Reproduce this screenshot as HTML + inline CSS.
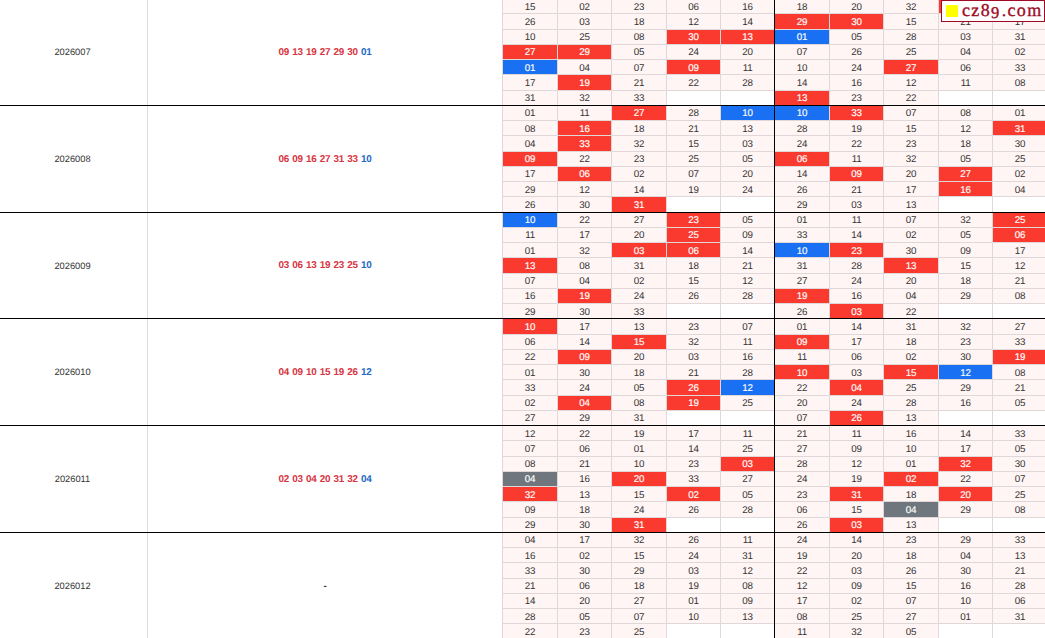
<!DOCTYPE html>
<html><head><meta charset="utf-8"><style>
html,body{margin:0;padding:0;background:#fff;}
body{width:1045px;height:638px;overflow:hidden;position:relative;font-family:"Liberation Sans",sans-serif;text-rendering:geometricPrecision;}
.a{position:absolute;}
.c{position:absolute;text-align:center;color:#333333;font-size:9.8px;letter-spacing:-0.2px;text-indent:0.2px;}
.r{background:#fb3a2f;}
.b{background:#1a70f2;}
.g{background:#6f767d;}
.t{position:absolute;text-align:center;color:#333333;font-size:9.8px;line-height:14px;height:14px;letter-spacing:-0.2px;text-indent:0.2px;}
.w{color:#fff;-webkit-text-stroke:0.15px #fff;}
.p{background:#fff5f4;}
.hl{position:absolute;left:502px;width:545px;height:1px;background:#e0d8d8;}
.vl{position:absolute;width:1px;background:#e0d8d8;}
.bk{position:absolute;left:0;width:1045px;height:1px;background:#000;}
.per{position:absolute;left:-1px;width:147px;text-align:center;font-size:9.3px;color:#333333;}
.num{position:absolute;left:148px;width:354px;text-align:center;font-size:9.9px;font-weight:bold;color:#d8343f;word-spacing:0.6px;letter-spacing:-0.2px;}
.num span{color:#2268c4;}
</style></head><body>

<div class="c p" style="left:503px;top:-1px;width:54px;height:14px"></div>
<div class="t" style="left:503px;top:0.55px;width:54px">15</div>
<div class="c p" style="left:558px;top:-1px;width:53px;height:14px"></div>
<div class="t" style="left:558px;top:0.55px;width:53px">02</div>
<div class="c p" style="left:612px;top:-1px;width:54px;height:14px"></div>
<div class="t" style="left:612px;top:0.55px;width:54px">23</div>
<div class="c p" style="left:667px;top:-1px;width:53px;height:14px"></div>
<div class="t" style="left:667px;top:0.55px;width:53px">06</div>
<div class="c p" style="left:721px;top:-1px;width:53px;height:14px"></div>
<div class="t" style="left:721px;top:0.55px;width:53px">16</div>
<div class="c p" style="left:503px;top:14px;width:54px;height:15px"></div>
<div class="t" style="left:503px;top:15.80px;width:54px">26</div>
<div class="c p" style="left:558px;top:14px;width:53px;height:15px"></div>
<div class="t" style="left:558px;top:15.80px;width:53px">03</div>
<div class="c p" style="left:612px;top:14px;width:54px;height:15px"></div>
<div class="t" style="left:612px;top:15.80px;width:54px">18</div>
<div class="c p" style="left:667px;top:14px;width:53px;height:15px"></div>
<div class="t" style="left:667px;top:15.80px;width:53px">12</div>
<div class="c p" style="left:721px;top:14px;width:53px;height:15px"></div>
<div class="t" style="left:721px;top:15.80px;width:53px">14</div>
<div class="c p" style="left:503px;top:30px;width:54px;height:14px"></div>
<div class="t" style="left:503px;top:31.05px;width:54px">10</div>
<div class="c p" style="left:558px;top:30px;width:53px;height:14px"></div>
<div class="t" style="left:558px;top:31.05px;width:53px">25</div>
<div class="c p" style="left:612px;top:30px;width:54px;height:14px"></div>
<div class="t" style="left:612px;top:31.05px;width:54px">08</div>
<div class="c r" style="left:667px;top:30px;width:53px;height:14px"></div>
<div class="t w" style="left:667px;top:31.05px;width:53px">30</div>
<div class="c r" style="left:721px;top:30px;width:53px;height:14px"></div>
<div class="t w" style="left:721px;top:31.05px;width:53px">13</div>
<div class="c r" style="left:503px;top:45px;width:54px;height:14px"></div>
<div class="t w" style="left:503px;top:46.30px;width:54px">27</div>
<div class="c r" style="left:558px;top:45px;width:53px;height:14px"></div>
<div class="t w" style="left:558px;top:46.30px;width:53px">29</div>
<div class="c p" style="left:612px;top:45px;width:54px;height:14px"></div>
<div class="t" style="left:612px;top:46.30px;width:54px">05</div>
<div class="c p" style="left:667px;top:45px;width:53px;height:14px"></div>
<div class="t" style="left:667px;top:46.30px;width:53px">24</div>
<div class="c p" style="left:721px;top:45px;width:53px;height:14px"></div>
<div class="t" style="left:721px;top:46.30px;width:53px">20</div>
<div class="c b" style="left:503px;top:60px;width:54px;height:14px"></div>
<div class="t w" style="left:503px;top:61.55px;width:54px">01</div>
<div class="c p" style="left:558px;top:60px;width:53px;height:14px"></div>
<div class="t" style="left:558px;top:61.55px;width:53px">04</div>
<div class="c p" style="left:612px;top:60px;width:54px;height:14px"></div>
<div class="t" style="left:612px;top:61.55px;width:54px">07</div>
<div class="c r" style="left:667px;top:60px;width:53px;height:14px"></div>
<div class="t w" style="left:667px;top:61.55px;width:53px">09</div>
<div class="c p" style="left:721px;top:60px;width:53px;height:14px"></div>
<div class="t" style="left:721px;top:61.55px;width:53px">11</div>
<div class="c p" style="left:503px;top:75px;width:54px;height:15px"></div>
<div class="t" style="left:503px;top:76.80px;width:54px">17</div>
<div class="c r" style="left:558px;top:75px;width:53px;height:15px"></div>
<div class="t w" style="left:558px;top:76.80px;width:53px">19</div>
<div class="c p" style="left:612px;top:75px;width:54px;height:15px"></div>
<div class="t" style="left:612px;top:76.80px;width:54px">21</div>
<div class="c p" style="left:667px;top:75px;width:53px;height:15px"></div>
<div class="t" style="left:667px;top:76.80px;width:53px">22</div>
<div class="c p" style="left:721px;top:75px;width:53px;height:15px"></div>
<div class="t" style="left:721px;top:76.80px;width:53px">28</div>
<div class="c p" style="left:503px;top:91px;width:54px;height:14px"></div>
<div class="t" style="left:503px;top:92.05px;width:54px">31</div>
<div class="c p" style="left:558px;top:91px;width:53px;height:14px"></div>
<div class="t" style="left:558px;top:92.05px;width:53px">32</div>
<div class="c p" style="left:612px;top:91px;width:54px;height:14px"></div>
<div class="t" style="left:612px;top:92.05px;width:54px">33</div>
<div class="c p" style="left:775px;top:-1px;width:54px;height:14px"></div>
<div class="t" style="left:775px;top:0.55px;width:54px">18</div>
<div class="c p" style="left:830px;top:-1px;width:53px;height:14px"></div>
<div class="t" style="left:830px;top:0.55px;width:53px">20</div>
<div class="c p" style="left:884px;top:-1px;width:54px;height:14px"></div>
<div class="t" style="left:884px;top:0.55px;width:54px">32</div>
<div class="c r" style="left:939px;top:-1px;width:53px;height:14px"></div>
<div class="t w" style="left:939px;top:0.55px;width:53px">09</div>
<div class="c r" style="left:993px;top:-1px;width:54px;height:14px"></div>
<div class="t w" style="left:993px;top:0.55px;width:54px">19</div>
<div class="c r" style="left:775px;top:14px;width:54px;height:15px"></div>
<div class="t w" style="left:775px;top:15.80px;width:54px">29</div>
<div class="c r" style="left:830px;top:14px;width:53px;height:15px"></div>
<div class="t w" style="left:830px;top:15.80px;width:53px">30</div>
<div class="c p" style="left:884px;top:14px;width:54px;height:15px"></div>
<div class="t" style="left:884px;top:15.80px;width:54px">15</div>
<div class="c p" style="left:939px;top:14px;width:53px;height:15px"></div>
<div class="t" style="left:939px;top:15.80px;width:53px">21</div>
<div class="c p" style="left:993px;top:14px;width:54px;height:15px"></div>
<div class="t" style="left:993px;top:15.80px;width:54px">17</div>
<div class="c b" style="left:775px;top:30px;width:54px;height:14px"></div>
<div class="t w" style="left:775px;top:31.05px;width:54px">01</div>
<div class="c p" style="left:830px;top:30px;width:53px;height:14px"></div>
<div class="t" style="left:830px;top:31.05px;width:53px">05</div>
<div class="c p" style="left:884px;top:30px;width:54px;height:14px"></div>
<div class="t" style="left:884px;top:31.05px;width:54px">28</div>
<div class="c p" style="left:939px;top:30px;width:53px;height:14px"></div>
<div class="t" style="left:939px;top:31.05px;width:53px">03</div>
<div class="c p" style="left:993px;top:30px;width:54px;height:14px"></div>
<div class="t" style="left:993px;top:31.05px;width:54px">31</div>
<div class="c p" style="left:775px;top:45px;width:54px;height:14px"></div>
<div class="t" style="left:775px;top:46.30px;width:54px">07</div>
<div class="c p" style="left:830px;top:45px;width:53px;height:14px"></div>
<div class="t" style="left:830px;top:46.30px;width:53px">26</div>
<div class="c p" style="left:884px;top:45px;width:54px;height:14px"></div>
<div class="t" style="left:884px;top:46.30px;width:54px">25</div>
<div class="c p" style="left:939px;top:45px;width:53px;height:14px"></div>
<div class="t" style="left:939px;top:46.30px;width:53px">04</div>
<div class="c p" style="left:993px;top:45px;width:54px;height:14px"></div>
<div class="t" style="left:993px;top:46.30px;width:54px">02</div>
<div class="c p" style="left:775px;top:60px;width:54px;height:14px"></div>
<div class="t" style="left:775px;top:61.55px;width:54px">10</div>
<div class="c p" style="left:830px;top:60px;width:53px;height:14px"></div>
<div class="t" style="left:830px;top:61.55px;width:53px">24</div>
<div class="c r" style="left:884px;top:60px;width:54px;height:14px"></div>
<div class="t w" style="left:884px;top:61.55px;width:54px">27</div>
<div class="c p" style="left:939px;top:60px;width:53px;height:14px"></div>
<div class="t" style="left:939px;top:61.55px;width:53px">06</div>
<div class="c p" style="left:993px;top:60px;width:54px;height:14px"></div>
<div class="t" style="left:993px;top:61.55px;width:54px">33</div>
<div class="c p" style="left:775px;top:75px;width:54px;height:15px"></div>
<div class="t" style="left:775px;top:76.80px;width:54px">14</div>
<div class="c p" style="left:830px;top:75px;width:53px;height:15px"></div>
<div class="t" style="left:830px;top:76.80px;width:53px">16</div>
<div class="c p" style="left:884px;top:75px;width:54px;height:15px"></div>
<div class="t" style="left:884px;top:76.80px;width:54px">12</div>
<div class="c p" style="left:939px;top:75px;width:53px;height:15px"></div>
<div class="t" style="left:939px;top:76.80px;width:53px">11</div>
<div class="c p" style="left:993px;top:75px;width:54px;height:15px"></div>
<div class="t" style="left:993px;top:76.80px;width:54px">08</div>
<div class="c r" style="left:775px;top:91px;width:54px;height:14px"></div>
<div class="t w" style="left:775px;top:92.05px;width:54px">13</div>
<div class="c p" style="left:830px;top:91px;width:53px;height:14px"></div>
<div class="t" style="left:830px;top:92.05px;width:53px">23</div>
<div class="c p" style="left:884px;top:91px;width:54px;height:14px"></div>
<div class="t" style="left:884px;top:92.05px;width:54px">22</div>
<div class="c p" style="left:503px;top:106px;width:54px;height:14px"></div>
<div class="t" style="left:503px;top:107.30px;width:54px">01</div>
<div class="c p" style="left:558px;top:106px;width:53px;height:14px"></div>
<div class="t" style="left:558px;top:107.30px;width:53px">11</div>
<div class="c r" style="left:612px;top:106px;width:54px;height:14px"></div>
<div class="t w" style="left:612px;top:107.30px;width:54px">27</div>
<div class="c p" style="left:667px;top:106px;width:53px;height:14px"></div>
<div class="t" style="left:667px;top:107.30px;width:53px">28</div>
<div class="c b" style="left:721px;top:106px;width:53px;height:14px"></div>
<div class="t w" style="left:721px;top:107.30px;width:53px">10</div>
<div class="c p" style="left:503px;top:121px;width:54px;height:14px"></div>
<div class="t" style="left:503px;top:122.55px;width:54px">08</div>
<div class="c r" style="left:558px;top:121px;width:53px;height:14px"></div>
<div class="t w" style="left:558px;top:122.55px;width:53px">16</div>
<div class="c p" style="left:612px;top:121px;width:54px;height:14px"></div>
<div class="t" style="left:612px;top:122.55px;width:54px">18</div>
<div class="c p" style="left:667px;top:121px;width:53px;height:14px"></div>
<div class="t" style="left:667px;top:122.55px;width:53px">21</div>
<div class="c p" style="left:721px;top:121px;width:53px;height:14px"></div>
<div class="t" style="left:721px;top:122.55px;width:53px">13</div>
<div class="c p" style="left:503px;top:136px;width:54px;height:15px"></div>
<div class="t" style="left:503px;top:137.80px;width:54px">04</div>
<div class="c r" style="left:558px;top:136px;width:53px;height:15px"></div>
<div class="t w" style="left:558px;top:137.80px;width:53px">33</div>
<div class="c p" style="left:612px;top:136px;width:54px;height:15px"></div>
<div class="t" style="left:612px;top:137.80px;width:54px">32</div>
<div class="c p" style="left:667px;top:136px;width:53px;height:15px"></div>
<div class="t" style="left:667px;top:137.80px;width:53px">15</div>
<div class="c p" style="left:721px;top:136px;width:53px;height:15px"></div>
<div class="t" style="left:721px;top:137.80px;width:53px">03</div>
<div class="c r" style="left:503px;top:152px;width:54px;height:14px"></div>
<div class="t w" style="left:503px;top:153.05px;width:54px">09</div>
<div class="c p" style="left:558px;top:152px;width:53px;height:14px"></div>
<div class="t" style="left:558px;top:153.05px;width:53px">22</div>
<div class="c p" style="left:612px;top:152px;width:54px;height:14px"></div>
<div class="t" style="left:612px;top:153.05px;width:54px">23</div>
<div class="c p" style="left:667px;top:152px;width:53px;height:14px"></div>
<div class="t" style="left:667px;top:153.05px;width:53px">25</div>
<div class="c p" style="left:721px;top:152px;width:53px;height:14px"></div>
<div class="t" style="left:721px;top:153.05px;width:53px">05</div>
<div class="c p" style="left:503px;top:167px;width:54px;height:14px"></div>
<div class="t" style="left:503px;top:168.30px;width:54px">17</div>
<div class="c r" style="left:558px;top:167px;width:53px;height:14px"></div>
<div class="t w" style="left:558px;top:168.30px;width:53px">06</div>
<div class="c p" style="left:612px;top:167px;width:54px;height:14px"></div>
<div class="t" style="left:612px;top:168.30px;width:54px">02</div>
<div class="c p" style="left:667px;top:167px;width:53px;height:14px"></div>
<div class="t" style="left:667px;top:168.30px;width:53px">07</div>
<div class="c p" style="left:721px;top:167px;width:53px;height:14px"></div>
<div class="t" style="left:721px;top:168.30px;width:53px">20</div>
<div class="c p" style="left:503px;top:182px;width:54px;height:14px"></div>
<div class="t" style="left:503px;top:183.55px;width:54px">29</div>
<div class="c p" style="left:558px;top:182px;width:53px;height:14px"></div>
<div class="t" style="left:558px;top:183.55px;width:53px">12</div>
<div class="c p" style="left:612px;top:182px;width:54px;height:14px"></div>
<div class="t" style="left:612px;top:183.55px;width:54px">14</div>
<div class="c p" style="left:667px;top:182px;width:53px;height:14px"></div>
<div class="t" style="left:667px;top:183.55px;width:53px">19</div>
<div class="c p" style="left:721px;top:182px;width:53px;height:14px"></div>
<div class="t" style="left:721px;top:183.55px;width:53px">24</div>
<div class="c p" style="left:503px;top:197px;width:54px;height:15px"></div>
<div class="t" style="left:503px;top:198.80px;width:54px">26</div>
<div class="c p" style="left:558px;top:197px;width:53px;height:15px"></div>
<div class="t" style="left:558px;top:198.80px;width:53px">30</div>
<div class="c r" style="left:612px;top:197px;width:54px;height:15px"></div>
<div class="t w" style="left:612px;top:198.80px;width:54px">31</div>
<div class="c b" style="left:775px;top:106px;width:54px;height:14px"></div>
<div class="t w" style="left:775px;top:107.30px;width:54px">10</div>
<div class="c r" style="left:830px;top:106px;width:53px;height:14px"></div>
<div class="t w" style="left:830px;top:107.30px;width:53px">33</div>
<div class="c p" style="left:884px;top:106px;width:54px;height:14px"></div>
<div class="t" style="left:884px;top:107.30px;width:54px">07</div>
<div class="c p" style="left:939px;top:106px;width:53px;height:14px"></div>
<div class="t" style="left:939px;top:107.30px;width:53px">08</div>
<div class="c p" style="left:993px;top:106px;width:54px;height:14px"></div>
<div class="t" style="left:993px;top:107.30px;width:54px">01</div>
<div class="c p" style="left:775px;top:121px;width:54px;height:14px"></div>
<div class="t" style="left:775px;top:122.55px;width:54px">28</div>
<div class="c p" style="left:830px;top:121px;width:53px;height:14px"></div>
<div class="t" style="left:830px;top:122.55px;width:53px">19</div>
<div class="c p" style="left:884px;top:121px;width:54px;height:14px"></div>
<div class="t" style="left:884px;top:122.55px;width:54px">15</div>
<div class="c p" style="left:939px;top:121px;width:53px;height:14px"></div>
<div class="t" style="left:939px;top:122.55px;width:53px">12</div>
<div class="c r" style="left:993px;top:121px;width:54px;height:14px"></div>
<div class="t w" style="left:993px;top:122.55px;width:54px">31</div>
<div class="c p" style="left:775px;top:136px;width:54px;height:15px"></div>
<div class="t" style="left:775px;top:137.80px;width:54px">24</div>
<div class="c p" style="left:830px;top:136px;width:53px;height:15px"></div>
<div class="t" style="left:830px;top:137.80px;width:53px">22</div>
<div class="c p" style="left:884px;top:136px;width:54px;height:15px"></div>
<div class="t" style="left:884px;top:137.80px;width:54px">23</div>
<div class="c p" style="left:939px;top:136px;width:53px;height:15px"></div>
<div class="t" style="left:939px;top:137.80px;width:53px">18</div>
<div class="c p" style="left:993px;top:136px;width:54px;height:15px"></div>
<div class="t" style="left:993px;top:137.80px;width:54px">30</div>
<div class="c r" style="left:775px;top:152px;width:54px;height:14px"></div>
<div class="t w" style="left:775px;top:153.05px;width:54px">06</div>
<div class="c p" style="left:830px;top:152px;width:53px;height:14px"></div>
<div class="t" style="left:830px;top:153.05px;width:53px">11</div>
<div class="c p" style="left:884px;top:152px;width:54px;height:14px"></div>
<div class="t" style="left:884px;top:153.05px;width:54px">32</div>
<div class="c p" style="left:939px;top:152px;width:53px;height:14px"></div>
<div class="t" style="left:939px;top:153.05px;width:53px">05</div>
<div class="c p" style="left:993px;top:152px;width:54px;height:14px"></div>
<div class="t" style="left:993px;top:153.05px;width:54px">25</div>
<div class="c p" style="left:775px;top:167px;width:54px;height:14px"></div>
<div class="t" style="left:775px;top:168.30px;width:54px">14</div>
<div class="c r" style="left:830px;top:167px;width:53px;height:14px"></div>
<div class="t w" style="left:830px;top:168.30px;width:53px">09</div>
<div class="c p" style="left:884px;top:167px;width:54px;height:14px"></div>
<div class="t" style="left:884px;top:168.30px;width:54px">20</div>
<div class="c r" style="left:939px;top:167px;width:53px;height:14px"></div>
<div class="t w" style="left:939px;top:168.30px;width:53px">27</div>
<div class="c p" style="left:993px;top:167px;width:54px;height:14px"></div>
<div class="t" style="left:993px;top:168.30px;width:54px">02</div>
<div class="c p" style="left:775px;top:182px;width:54px;height:14px"></div>
<div class="t" style="left:775px;top:183.55px;width:54px">26</div>
<div class="c p" style="left:830px;top:182px;width:53px;height:14px"></div>
<div class="t" style="left:830px;top:183.55px;width:53px">21</div>
<div class="c p" style="left:884px;top:182px;width:54px;height:14px"></div>
<div class="t" style="left:884px;top:183.55px;width:54px">17</div>
<div class="c r" style="left:939px;top:182px;width:53px;height:14px"></div>
<div class="t w" style="left:939px;top:183.55px;width:53px">16</div>
<div class="c p" style="left:993px;top:182px;width:54px;height:14px"></div>
<div class="t" style="left:993px;top:183.55px;width:54px">04</div>
<div class="c p" style="left:775px;top:197px;width:54px;height:15px"></div>
<div class="t" style="left:775px;top:198.80px;width:54px">29</div>
<div class="c p" style="left:830px;top:197px;width:53px;height:15px"></div>
<div class="t" style="left:830px;top:198.80px;width:53px">03</div>
<div class="c p" style="left:884px;top:197px;width:54px;height:15px"></div>
<div class="t" style="left:884px;top:198.80px;width:54px">13</div>
<div class="c b" style="left:503px;top:213px;width:54px;height:14px"></div>
<div class="t w" style="left:503px;top:214.05px;width:54px">10</div>
<div class="c p" style="left:558px;top:213px;width:53px;height:14px"></div>
<div class="t" style="left:558px;top:214.05px;width:53px">22</div>
<div class="c p" style="left:612px;top:213px;width:54px;height:14px"></div>
<div class="t" style="left:612px;top:214.05px;width:54px">27</div>
<div class="c r" style="left:667px;top:213px;width:53px;height:14px"></div>
<div class="t w" style="left:667px;top:214.05px;width:53px">23</div>
<div class="c p" style="left:721px;top:213px;width:53px;height:14px"></div>
<div class="t" style="left:721px;top:214.05px;width:53px">05</div>
<div class="c p" style="left:503px;top:228px;width:54px;height:14px"></div>
<div class="t" style="left:503px;top:229.30px;width:54px">11</div>
<div class="c p" style="left:558px;top:228px;width:53px;height:14px"></div>
<div class="t" style="left:558px;top:229.30px;width:53px">17</div>
<div class="c p" style="left:612px;top:228px;width:54px;height:14px"></div>
<div class="t" style="left:612px;top:229.30px;width:54px">20</div>
<div class="c r" style="left:667px;top:228px;width:53px;height:14px"></div>
<div class="t w" style="left:667px;top:229.30px;width:53px">25</div>
<div class="c p" style="left:721px;top:228px;width:53px;height:14px"></div>
<div class="t" style="left:721px;top:229.30px;width:53px">09</div>
<div class="c p" style="left:503px;top:243px;width:54px;height:14px"></div>
<div class="t" style="left:503px;top:244.55px;width:54px">01</div>
<div class="c p" style="left:558px;top:243px;width:53px;height:14px"></div>
<div class="t" style="left:558px;top:244.55px;width:53px">32</div>
<div class="c r" style="left:612px;top:243px;width:54px;height:14px"></div>
<div class="t w" style="left:612px;top:244.55px;width:54px">03</div>
<div class="c r" style="left:667px;top:243px;width:53px;height:14px"></div>
<div class="t w" style="left:667px;top:244.55px;width:53px">06</div>
<div class="c p" style="left:721px;top:243px;width:53px;height:14px"></div>
<div class="t" style="left:721px;top:244.55px;width:53px">14</div>
<div class="c r" style="left:503px;top:258px;width:54px;height:15px"></div>
<div class="t w" style="left:503px;top:259.80px;width:54px">13</div>
<div class="c p" style="left:558px;top:258px;width:53px;height:15px"></div>
<div class="t" style="left:558px;top:259.80px;width:53px">08</div>
<div class="c p" style="left:612px;top:258px;width:54px;height:15px"></div>
<div class="t" style="left:612px;top:259.80px;width:54px">31</div>
<div class="c p" style="left:667px;top:258px;width:53px;height:15px"></div>
<div class="t" style="left:667px;top:259.80px;width:53px">18</div>
<div class="c p" style="left:721px;top:258px;width:53px;height:15px"></div>
<div class="t" style="left:721px;top:259.80px;width:53px">21</div>
<div class="c p" style="left:503px;top:274px;width:54px;height:14px"></div>
<div class="t" style="left:503px;top:275.05px;width:54px">07</div>
<div class="c p" style="left:558px;top:274px;width:53px;height:14px"></div>
<div class="t" style="left:558px;top:275.05px;width:53px">04</div>
<div class="c p" style="left:612px;top:274px;width:54px;height:14px"></div>
<div class="t" style="left:612px;top:275.05px;width:54px">02</div>
<div class="c p" style="left:667px;top:274px;width:53px;height:14px"></div>
<div class="t" style="left:667px;top:275.05px;width:53px">15</div>
<div class="c p" style="left:721px;top:274px;width:53px;height:14px"></div>
<div class="t" style="left:721px;top:275.05px;width:53px">12</div>
<div class="c p" style="left:503px;top:289px;width:54px;height:14px"></div>
<div class="t" style="left:503px;top:290.30px;width:54px">16</div>
<div class="c r" style="left:558px;top:289px;width:53px;height:14px"></div>
<div class="t w" style="left:558px;top:290.30px;width:53px">19</div>
<div class="c p" style="left:612px;top:289px;width:54px;height:14px"></div>
<div class="t" style="left:612px;top:290.30px;width:54px">24</div>
<div class="c p" style="left:667px;top:289px;width:53px;height:14px"></div>
<div class="t" style="left:667px;top:290.30px;width:53px">26</div>
<div class="c p" style="left:721px;top:289px;width:53px;height:14px"></div>
<div class="t" style="left:721px;top:290.30px;width:53px">28</div>
<div class="c p" style="left:503px;top:304px;width:54px;height:14px"></div>
<div class="t" style="left:503px;top:305.55px;width:54px">29</div>
<div class="c p" style="left:558px;top:304px;width:53px;height:14px"></div>
<div class="t" style="left:558px;top:305.55px;width:53px">30</div>
<div class="c p" style="left:612px;top:304px;width:54px;height:14px"></div>
<div class="t" style="left:612px;top:305.55px;width:54px">33</div>
<div class="c p" style="left:775px;top:213px;width:54px;height:14px"></div>
<div class="t" style="left:775px;top:214.05px;width:54px">01</div>
<div class="c p" style="left:830px;top:213px;width:53px;height:14px"></div>
<div class="t" style="left:830px;top:214.05px;width:53px">11</div>
<div class="c p" style="left:884px;top:213px;width:54px;height:14px"></div>
<div class="t" style="left:884px;top:214.05px;width:54px">07</div>
<div class="c p" style="left:939px;top:213px;width:53px;height:14px"></div>
<div class="t" style="left:939px;top:214.05px;width:53px">32</div>
<div class="c r" style="left:993px;top:213px;width:54px;height:14px"></div>
<div class="t w" style="left:993px;top:214.05px;width:54px">25</div>
<div class="c p" style="left:775px;top:228px;width:54px;height:14px"></div>
<div class="t" style="left:775px;top:229.30px;width:54px">33</div>
<div class="c p" style="left:830px;top:228px;width:53px;height:14px"></div>
<div class="t" style="left:830px;top:229.30px;width:53px">14</div>
<div class="c p" style="left:884px;top:228px;width:54px;height:14px"></div>
<div class="t" style="left:884px;top:229.30px;width:54px">02</div>
<div class="c p" style="left:939px;top:228px;width:53px;height:14px"></div>
<div class="t" style="left:939px;top:229.30px;width:53px">05</div>
<div class="c r" style="left:993px;top:228px;width:54px;height:14px"></div>
<div class="t w" style="left:993px;top:229.30px;width:54px">06</div>
<div class="c b" style="left:775px;top:243px;width:54px;height:14px"></div>
<div class="t w" style="left:775px;top:244.55px;width:54px">10</div>
<div class="c r" style="left:830px;top:243px;width:53px;height:14px"></div>
<div class="t w" style="left:830px;top:244.55px;width:53px">23</div>
<div class="c p" style="left:884px;top:243px;width:54px;height:14px"></div>
<div class="t" style="left:884px;top:244.55px;width:54px">30</div>
<div class="c p" style="left:939px;top:243px;width:53px;height:14px"></div>
<div class="t" style="left:939px;top:244.55px;width:53px">09</div>
<div class="c p" style="left:993px;top:243px;width:54px;height:14px"></div>
<div class="t" style="left:993px;top:244.55px;width:54px">17</div>
<div class="c p" style="left:775px;top:258px;width:54px;height:15px"></div>
<div class="t" style="left:775px;top:259.80px;width:54px">31</div>
<div class="c p" style="left:830px;top:258px;width:53px;height:15px"></div>
<div class="t" style="left:830px;top:259.80px;width:53px">28</div>
<div class="c r" style="left:884px;top:258px;width:54px;height:15px"></div>
<div class="t w" style="left:884px;top:259.80px;width:54px">13</div>
<div class="c p" style="left:939px;top:258px;width:53px;height:15px"></div>
<div class="t" style="left:939px;top:259.80px;width:53px">15</div>
<div class="c p" style="left:993px;top:258px;width:54px;height:15px"></div>
<div class="t" style="left:993px;top:259.80px;width:54px">12</div>
<div class="c p" style="left:775px;top:274px;width:54px;height:14px"></div>
<div class="t" style="left:775px;top:275.05px;width:54px">27</div>
<div class="c p" style="left:830px;top:274px;width:53px;height:14px"></div>
<div class="t" style="left:830px;top:275.05px;width:53px">24</div>
<div class="c p" style="left:884px;top:274px;width:54px;height:14px"></div>
<div class="t" style="left:884px;top:275.05px;width:54px">20</div>
<div class="c p" style="left:939px;top:274px;width:53px;height:14px"></div>
<div class="t" style="left:939px;top:275.05px;width:53px">18</div>
<div class="c p" style="left:993px;top:274px;width:54px;height:14px"></div>
<div class="t" style="left:993px;top:275.05px;width:54px">21</div>
<div class="c r" style="left:775px;top:289px;width:54px;height:14px"></div>
<div class="t w" style="left:775px;top:290.30px;width:54px">19</div>
<div class="c p" style="left:830px;top:289px;width:53px;height:14px"></div>
<div class="t" style="left:830px;top:290.30px;width:53px">16</div>
<div class="c p" style="left:884px;top:289px;width:54px;height:14px"></div>
<div class="t" style="left:884px;top:290.30px;width:54px">04</div>
<div class="c p" style="left:939px;top:289px;width:53px;height:14px"></div>
<div class="t" style="left:939px;top:290.30px;width:53px">29</div>
<div class="c p" style="left:993px;top:289px;width:54px;height:14px"></div>
<div class="t" style="left:993px;top:290.30px;width:54px">08</div>
<div class="c p" style="left:775px;top:304px;width:54px;height:14px"></div>
<div class="t" style="left:775px;top:305.55px;width:54px">26</div>
<div class="c r" style="left:830px;top:304px;width:53px;height:14px"></div>
<div class="t w" style="left:830px;top:305.55px;width:53px">03</div>
<div class="c p" style="left:884px;top:304px;width:54px;height:14px"></div>
<div class="t" style="left:884px;top:305.55px;width:54px">22</div>
<div class="c r" style="left:503px;top:319px;width:54px;height:15px"></div>
<div class="t w" style="left:503px;top:320.80px;width:54px">10</div>
<div class="c p" style="left:558px;top:319px;width:53px;height:15px"></div>
<div class="t" style="left:558px;top:320.80px;width:53px">17</div>
<div class="c p" style="left:612px;top:319px;width:54px;height:15px"></div>
<div class="t" style="left:612px;top:320.80px;width:54px">13</div>
<div class="c p" style="left:667px;top:319px;width:53px;height:15px"></div>
<div class="t" style="left:667px;top:320.80px;width:53px">23</div>
<div class="c p" style="left:721px;top:319px;width:53px;height:15px"></div>
<div class="t" style="left:721px;top:320.80px;width:53px">07</div>
<div class="c p" style="left:503px;top:335px;width:54px;height:14px"></div>
<div class="t" style="left:503px;top:336.05px;width:54px">06</div>
<div class="c p" style="left:558px;top:335px;width:53px;height:14px"></div>
<div class="t" style="left:558px;top:336.05px;width:53px">14</div>
<div class="c r" style="left:612px;top:335px;width:54px;height:14px"></div>
<div class="t w" style="left:612px;top:336.05px;width:54px">15</div>
<div class="c p" style="left:667px;top:335px;width:53px;height:14px"></div>
<div class="t" style="left:667px;top:336.05px;width:53px">32</div>
<div class="c p" style="left:721px;top:335px;width:53px;height:14px"></div>
<div class="t" style="left:721px;top:336.05px;width:53px">11</div>
<div class="c p" style="left:503px;top:350px;width:54px;height:14px"></div>
<div class="t" style="left:503px;top:351.30px;width:54px">22</div>
<div class="c r" style="left:558px;top:350px;width:53px;height:14px"></div>
<div class="t w" style="left:558px;top:351.30px;width:53px">09</div>
<div class="c p" style="left:612px;top:350px;width:54px;height:14px"></div>
<div class="t" style="left:612px;top:351.30px;width:54px">20</div>
<div class="c p" style="left:667px;top:350px;width:53px;height:14px"></div>
<div class="t" style="left:667px;top:351.30px;width:53px">03</div>
<div class="c p" style="left:721px;top:350px;width:53px;height:14px"></div>
<div class="t" style="left:721px;top:351.30px;width:53px">16</div>
<div class="c p" style="left:503px;top:365px;width:54px;height:14px"></div>
<div class="t" style="left:503px;top:366.55px;width:54px">01</div>
<div class="c p" style="left:558px;top:365px;width:53px;height:14px"></div>
<div class="t" style="left:558px;top:366.55px;width:53px">30</div>
<div class="c p" style="left:612px;top:365px;width:54px;height:14px"></div>
<div class="t" style="left:612px;top:366.55px;width:54px">18</div>
<div class="c p" style="left:667px;top:365px;width:53px;height:14px"></div>
<div class="t" style="left:667px;top:366.55px;width:53px">21</div>
<div class="c p" style="left:721px;top:365px;width:53px;height:14px"></div>
<div class="t" style="left:721px;top:366.55px;width:53px">28</div>
<div class="c p" style="left:503px;top:380px;width:54px;height:15px"></div>
<div class="t" style="left:503px;top:381.80px;width:54px">33</div>
<div class="c p" style="left:558px;top:380px;width:53px;height:15px"></div>
<div class="t" style="left:558px;top:381.80px;width:53px">24</div>
<div class="c p" style="left:612px;top:380px;width:54px;height:15px"></div>
<div class="t" style="left:612px;top:381.80px;width:54px">05</div>
<div class="c r" style="left:667px;top:380px;width:53px;height:15px"></div>
<div class="t w" style="left:667px;top:381.80px;width:53px">26</div>
<div class="c b" style="left:721px;top:380px;width:53px;height:15px"></div>
<div class="t w" style="left:721px;top:381.80px;width:53px">12</div>
<div class="c p" style="left:503px;top:396px;width:54px;height:14px"></div>
<div class="t" style="left:503px;top:397.05px;width:54px">02</div>
<div class="c r" style="left:558px;top:396px;width:53px;height:14px"></div>
<div class="t w" style="left:558px;top:397.05px;width:53px">04</div>
<div class="c p" style="left:612px;top:396px;width:54px;height:14px"></div>
<div class="t" style="left:612px;top:397.05px;width:54px">08</div>
<div class="c r" style="left:667px;top:396px;width:53px;height:14px"></div>
<div class="t w" style="left:667px;top:397.05px;width:53px">19</div>
<div class="c p" style="left:721px;top:396px;width:53px;height:14px"></div>
<div class="t" style="left:721px;top:397.05px;width:53px">25</div>
<div class="c p" style="left:503px;top:411px;width:54px;height:14px"></div>
<div class="t" style="left:503px;top:412.30px;width:54px">27</div>
<div class="c p" style="left:558px;top:411px;width:53px;height:14px"></div>
<div class="t" style="left:558px;top:412.30px;width:53px">29</div>
<div class="c p" style="left:612px;top:411px;width:54px;height:14px"></div>
<div class="t" style="left:612px;top:412.30px;width:54px">31</div>
<div class="c p" style="left:775px;top:319px;width:54px;height:15px"></div>
<div class="t" style="left:775px;top:320.80px;width:54px">01</div>
<div class="c p" style="left:830px;top:319px;width:53px;height:15px"></div>
<div class="t" style="left:830px;top:320.80px;width:53px">14</div>
<div class="c p" style="left:884px;top:319px;width:54px;height:15px"></div>
<div class="t" style="left:884px;top:320.80px;width:54px">31</div>
<div class="c p" style="left:939px;top:319px;width:53px;height:15px"></div>
<div class="t" style="left:939px;top:320.80px;width:53px">32</div>
<div class="c p" style="left:993px;top:319px;width:54px;height:15px"></div>
<div class="t" style="left:993px;top:320.80px;width:54px">27</div>
<div class="c r" style="left:775px;top:335px;width:54px;height:14px"></div>
<div class="t w" style="left:775px;top:336.05px;width:54px">09</div>
<div class="c p" style="left:830px;top:335px;width:53px;height:14px"></div>
<div class="t" style="left:830px;top:336.05px;width:53px">17</div>
<div class="c p" style="left:884px;top:335px;width:54px;height:14px"></div>
<div class="t" style="left:884px;top:336.05px;width:54px">18</div>
<div class="c p" style="left:939px;top:335px;width:53px;height:14px"></div>
<div class="t" style="left:939px;top:336.05px;width:53px">23</div>
<div class="c p" style="left:993px;top:335px;width:54px;height:14px"></div>
<div class="t" style="left:993px;top:336.05px;width:54px">33</div>
<div class="c p" style="left:775px;top:350px;width:54px;height:14px"></div>
<div class="t" style="left:775px;top:351.30px;width:54px">11</div>
<div class="c p" style="left:830px;top:350px;width:53px;height:14px"></div>
<div class="t" style="left:830px;top:351.30px;width:53px">06</div>
<div class="c p" style="left:884px;top:350px;width:54px;height:14px"></div>
<div class="t" style="left:884px;top:351.30px;width:54px">02</div>
<div class="c p" style="left:939px;top:350px;width:53px;height:14px"></div>
<div class="t" style="left:939px;top:351.30px;width:53px">30</div>
<div class="c r" style="left:993px;top:350px;width:54px;height:14px"></div>
<div class="t w" style="left:993px;top:351.30px;width:54px">19</div>
<div class="c r" style="left:775px;top:365px;width:54px;height:14px"></div>
<div class="t w" style="left:775px;top:366.55px;width:54px">10</div>
<div class="c p" style="left:830px;top:365px;width:53px;height:14px"></div>
<div class="t" style="left:830px;top:366.55px;width:53px">03</div>
<div class="c r" style="left:884px;top:365px;width:54px;height:14px"></div>
<div class="t w" style="left:884px;top:366.55px;width:54px">15</div>
<div class="c b" style="left:939px;top:365px;width:53px;height:14px"></div>
<div class="t w" style="left:939px;top:366.55px;width:53px">12</div>
<div class="c p" style="left:993px;top:365px;width:54px;height:14px"></div>
<div class="t" style="left:993px;top:366.55px;width:54px">08</div>
<div class="c p" style="left:775px;top:380px;width:54px;height:15px"></div>
<div class="t" style="left:775px;top:381.80px;width:54px">22</div>
<div class="c r" style="left:830px;top:380px;width:53px;height:15px"></div>
<div class="t w" style="left:830px;top:381.80px;width:53px">04</div>
<div class="c p" style="left:884px;top:380px;width:54px;height:15px"></div>
<div class="t" style="left:884px;top:381.80px;width:54px">25</div>
<div class="c p" style="left:939px;top:380px;width:53px;height:15px"></div>
<div class="t" style="left:939px;top:381.80px;width:53px">29</div>
<div class="c p" style="left:993px;top:380px;width:54px;height:15px"></div>
<div class="t" style="left:993px;top:381.80px;width:54px">21</div>
<div class="c p" style="left:775px;top:396px;width:54px;height:14px"></div>
<div class="t" style="left:775px;top:397.05px;width:54px">20</div>
<div class="c p" style="left:830px;top:396px;width:53px;height:14px"></div>
<div class="t" style="left:830px;top:397.05px;width:53px">24</div>
<div class="c p" style="left:884px;top:396px;width:54px;height:14px"></div>
<div class="t" style="left:884px;top:397.05px;width:54px">28</div>
<div class="c p" style="left:939px;top:396px;width:53px;height:14px"></div>
<div class="t" style="left:939px;top:397.05px;width:53px">16</div>
<div class="c p" style="left:993px;top:396px;width:54px;height:14px"></div>
<div class="t" style="left:993px;top:397.05px;width:54px">05</div>
<div class="c p" style="left:775px;top:411px;width:54px;height:14px"></div>
<div class="t" style="left:775px;top:412.30px;width:54px">07</div>
<div class="c r" style="left:830px;top:411px;width:53px;height:14px"></div>
<div class="t w" style="left:830px;top:412.30px;width:53px">26</div>
<div class="c p" style="left:884px;top:411px;width:54px;height:14px"></div>
<div class="t" style="left:884px;top:412.30px;width:54px">13</div>
<div class="c p" style="left:503px;top:426px;width:54px;height:14px"></div>
<div class="t" style="left:503px;top:427.55px;width:54px">12</div>
<div class="c p" style="left:558px;top:426px;width:53px;height:14px"></div>
<div class="t" style="left:558px;top:427.55px;width:53px">22</div>
<div class="c p" style="left:612px;top:426px;width:54px;height:14px"></div>
<div class="t" style="left:612px;top:427.55px;width:54px">19</div>
<div class="c p" style="left:667px;top:426px;width:53px;height:14px"></div>
<div class="t" style="left:667px;top:427.55px;width:53px">17</div>
<div class="c p" style="left:721px;top:426px;width:53px;height:14px"></div>
<div class="t" style="left:721px;top:427.55px;width:53px">11</div>
<div class="c p" style="left:503px;top:441px;width:54px;height:15px"></div>
<div class="t" style="left:503px;top:442.80px;width:54px">07</div>
<div class="c p" style="left:558px;top:441px;width:53px;height:15px"></div>
<div class="t" style="left:558px;top:442.80px;width:53px">06</div>
<div class="c p" style="left:612px;top:441px;width:54px;height:15px"></div>
<div class="t" style="left:612px;top:442.80px;width:54px">01</div>
<div class="c p" style="left:667px;top:441px;width:53px;height:15px"></div>
<div class="t" style="left:667px;top:442.80px;width:53px">14</div>
<div class="c p" style="left:721px;top:441px;width:53px;height:15px"></div>
<div class="t" style="left:721px;top:442.80px;width:53px">25</div>
<div class="c p" style="left:503px;top:457px;width:54px;height:14px"></div>
<div class="t" style="left:503px;top:458.05px;width:54px">08</div>
<div class="c p" style="left:558px;top:457px;width:53px;height:14px"></div>
<div class="t" style="left:558px;top:458.05px;width:53px">21</div>
<div class="c p" style="left:612px;top:457px;width:54px;height:14px"></div>
<div class="t" style="left:612px;top:458.05px;width:54px">10</div>
<div class="c p" style="left:667px;top:457px;width:53px;height:14px"></div>
<div class="t" style="left:667px;top:458.05px;width:53px">23</div>
<div class="c r" style="left:721px;top:457px;width:53px;height:14px"></div>
<div class="t w" style="left:721px;top:458.05px;width:53px">03</div>
<div class="c g" style="left:503px;top:472px;width:54px;height:14px"></div>
<div class="t w" style="left:503px;top:473.30px;width:54px">04</div>
<div class="c p" style="left:558px;top:472px;width:53px;height:14px"></div>
<div class="t" style="left:558px;top:473.30px;width:53px">16</div>
<div class="c r" style="left:612px;top:472px;width:54px;height:14px"></div>
<div class="t w" style="left:612px;top:473.30px;width:54px">20</div>
<div class="c p" style="left:667px;top:472px;width:53px;height:14px"></div>
<div class="t" style="left:667px;top:473.30px;width:53px">33</div>
<div class="c p" style="left:721px;top:472px;width:53px;height:14px"></div>
<div class="t" style="left:721px;top:473.30px;width:53px">27</div>
<div class="c r" style="left:503px;top:487px;width:54px;height:14px"></div>
<div class="t w" style="left:503px;top:488.55px;width:54px">32</div>
<div class="c p" style="left:558px;top:487px;width:53px;height:14px"></div>
<div class="t" style="left:558px;top:488.55px;width:53px">13</div>
<div class="c p" style="left:612px;top:487px;width:54px;height:14px"></div>
<div class="t" style="left:612px;top:488.55px;width:54px">15</div>
<div class="c r" style="left:667px;top:487px;width:53px;height:14px"></div>
<div class="t w" style="left:667px;top:488.55px;width:53px">02</div>
<div class="c p" style="left:721px;top:487px;width:53px;height:14px"></div>
<div class="t" style="left:721px;top:488.55px;width:53px">05</div>
<div class="c p" style="left:503px;top:502px;width:54px;height:15px"></div>
<div class="t" style="left:503px;top:503.80px;width:54px">09</div>
<div class="c p" style="left:558px;top:502px;width:53px;height:15px"></div>
<div class="t" style="left:558px;top:503.80px;width:53px">18</div>
<div class="c p" style="left:612px;top:502px;width:54px;height:15px"></div>
<div class="t" style="left:612px;top:503.80px;width:54px">24</div>
<div class="c p" style="left:667px;top:502px;width:53px;height:15px"></div>
<div class="t" style="left:667px;top:503.80px;width:53px">26</div>
<div class="c p" style="left:721px;top:502px;width:53px;height:15px"></div>
<div class="t" style="left:721px;top:503.80px;width:53px">28</div>
<div class="c p" style="left:503px;top:518px;width:54px;height:14px"></div>
<div class="t" style="left:503px;top:519.05px;width:54px">29</div>
<div class="c p" style="left:558px;top:518px;width:53px;height:14px"></div>
<div class="t" style="left:558px;top:519.05px;width:53px">30</div>
<div class="c r" style="left:612px;top:518px;width:54px;height:14px"></div>
<div class="t w" style="left:612px;top:519.05px;width:54px">31</div>
<div class="c p" style="left:775px;top:426px;width:54px;height:14px"></div>
<div class="t" style="left:775px;top:427.55px;width:54px">21</div>
<div class="c p" style="left:830px;top:426px;width:53px;height:14px"></div>
<div class="t" style="left:830px;top:427.55px;width:53px">11</div>
<div class="c p" style="left:884px;top:426px;width:54px;height:14px"></div>
<div class="t" style="left:884px;top:427.55px;width:54px">16</div>
<div class="c p" style="left:939px;top:426px;width:53px;height:14px"></div>
<div class="t" style="left:939px;top:427.55px;width:53px">14</div>
<div class="c p" style="left:993px;top:426px;width:54px;height:14px"></div>
<div class="t" style="left:993px;top:427.55px;width:54px">33</div>
<div class="c p" style="left:775px;top:441px;width:54px;height:15px"></div>
<div class="t" style="left:775px;top:442.80px;width:54px">27</div>
<div class="c p" style="left:830px;top:441px;width:53px;height:15px"></div>
<div class="t" style="left:830px;top:442.80px;width:53px">09</div>
<div class="c p" style="left:884px;top:441px;width:54px;height:15px"></div>
<div class="t" style="left:884px;top:442.80px;width:54px">10</div>
<div class="c p" style="left:939px;top:441px;width:53px;height:15px"></div>
<div class="t" style="left:939px;top:442.80px;width:53px">17</div>
<div class="c p" style="left:993px;top:441px;width:54px;height:15px"></div>
<div class="t" style="left:993px;top:442.80px;width:54px">05</div>
<div class="c p" style="left:775px;top:457px;width:54px;height:14px"></div>
<div class="t" style="left:775px;top:458.05px;width:54px">28</div>
<div class="c p" style="left:830px;top:457px;width:53px;height:14px"></div>
<div class="t" style="left:830px;top:458.05px;width:53px">12</div>
<div class="c p" style="left:884px;top:457px;width:54px;height:14px"></div>
<div class="t" style="left:884px;top:458.05px;width:54px">01</div>
<div class="c r" style="left:939px;top:457px;width:53px;height:14px"></div>
<div class="t w" style="left:939px;top:458.05px;width:53px">32</div>
<div class="c p" style="left:993px;top:457px;width:54px;height:14px"></div>
<div class="t" style="left:993px;top:458.05px;width:54px">30</div>
<div class="c p" style="left:775px;top:472px;width:54px;height:14px"></div>
<div class="t" style="left:775px;top:473.30px;width:54px">24</div>
<div class="c p" style="left:830px;top:472px;width:53px;height:14px"></div>
<div class="t" style="left:830px;top:473.30px;width:53px">19</div>
<div class="c r" style="left:884px;top:472px;width:54px;height:14px"></div>
<div class="t w" style="left:884px;top:473.30px;width:54px">02</div>
<div class="c p" style="left:939px;top:472px;width:53px;height:14px"></div>
<div class="t" style="left:939px;top:473.30px;width:53px">22</div>
<div class="c p" style="left:993px;top:472px;width:54px;height:14px"></div>
<div class="t" style="left:993px;top:473.30px;width:54px">07</div>
<div class="c p" style="left:775px;top:487px;width:54px;height:14px"></div>
<div class="t" style="left:775px;top:488.55px;width:54px">23</div>
<div class="c r" style="left:830px;top:487px;width:53px;height:14px"></div>
<div class="t w" style="left:830px;top:488.55px;width:53px">31</div>
<div class="c p" style="left:884px;top:487px;width:54px;height:14px"></div>
<div class="t" style="left:884px;top:488.55px;width:54px">18</div>
<div class="c r" style="left:939px;top:487px;width:53px;height:14px"></div>
<div class="t w" style="left:939px;top:488.55px;width:53px">20</div>
<div class="c p" style="left:993px;top:487px;width:54px;height:14px"></div>
<div class="t" style="left:993px;top:488.55px;width:54px">25</div>
<div class="c p" style="left:775px;top:502px;width:54px;height:15px"></div>
<div class="t" style="left:775px;top:503.80px;width:54px">06</div>
<div class="c p" style="left:830px;top:502px;width:53px;height:15px"></div>
<div class="t" style="left:830px;top:503.80px;width:53px">15</div>
<div class="c g" style="left:884px;top:502px;width:54px;height:15px"></div>
<div class="t w" style="left:884px;top:503.80px;width:54px">04</div>
<div class="c p" style="left:939px;top:502px;width:53px;height:15px"></div>
<div class="t" style="left:939px;top:503.80px;width:53px">29</div>
<div class="c p" style="left:993px;top:502px;width:54px;height:15px"></div>
<div class="t" style="left:993px;top:503.80px;width:54px">08</div>
<div class="c p" style="left:775px;top:518px;width:54px;height:14px"></div>
<div class="t" style="left:775px;top:519.05px;width:54px">26</div>
<div class="c r" style="left:830px;top:518px;width:53px;height:14px"></div>
<div class="t w" style="left:830px;top:519.05px;width:53px">03</div>
<div class="c p" style="left:884px;top:518px;width:54px;height:14px"></div>
<div class="t" style="left:884px;top:519.05px;width:54px">13</div>
<div class="c p" style="left:503px;top:533px;width:54px;height:14px"></div>
<div class="t" style="left:503px;top:534.30px;width:54px">04</div>
<div class="c p" style="left:558px;top:533px;width:53px;height:14px"></div>
<div class="t" style="left:558px;top:534.30px;width:53px">17</div>
<div class="c p" style="left:612px;top:533px;width:54px;height:14px"></div>
<div class="t" style="left:612px;top:534.30px;width:54px">32</div>
<div class="c p" style="left:667px;top:533px;width:53px;height:14px"></div>
<div class="t" style="left:667px;top:534.30px;width:53px">26</div>
<div class="c p" style="left:721px;top:533px;width:53px;height:14px"></div>
<div class="t" style="left:721px;top:534.30px;width:53px">11</div>
<div class="c p" style="left:503px;top:548px;width:54px;height:14px"></div>
<div class="t" style="left:503px;top:549.55px;width:54px">16</div>
<div class="c p" style="left:558px;top:548px;width:53px;height:14px"></div>
<div class="t" style="left:558px;top:549.55px;width:53px">02</div>
<div class="c p" style="left:612px;top:548px;width:54px;height:14px"></div>
<div class="t" style="left:612px;top:549.55px;width:54px">15</div>
<div class="c p" style="left:667px;top:548px;width:53px;height:14px"></div>
<div class="t" style="left:667px;top:549.55px;width:53px">24</div>
<div class="c p" style="left:721px;top:548px;width:53px;height:14px"></div>
<div class="t" style="left:721px;top:549.55px;width:53px">31</div>
<div class="c p" style="left:503px;top:563px;width:54px;height:15px"></div>
<div class="t" style="left:503px;top:564.80px;width:54px">33</div>
<div class="c p" style="left:558px;top:563px;width:53px;height:15px"></div>
<div class="t" style="left:558px;top:564.80px;width:53px">30</div>
<div class="c p" style="left:612px;top:563px;width:54px;height:15px"></div>
<div class="t" style="left:612px;top:564.80px;width:54px">29</div>
<div class="c p" style="left:667px;top:563px;width:53px;height:15px"></div>
<div class="t" style="left:667px;top:564.80px;width:53px">03</div>
<div class="c p" style="left:721px;top:563px;width:53px;height:15px"></div>
<div class="t" style="left:721px;top:564.80px;width:53px">12</div>
<div class="c p" style="left:503px;top:579px;width:54px;height:14px"></div>
<div class="t" style="left:503px;top:580.05px;width:54px">21</div>
<div class="c p" style="left:558px;top:579px;width:53px;height:14px"></div>
<div class="t" style="left:558px;top:580.05px;width:53px">06</div>
<div class="c p" style="left:612px;top:579px;width:54px;height:14px"></div>
<div class="t" style="left:612px;top:580.05px;width:54px">18</div>
<div class="c p" style="left:667px;top:579px;width:53px;height:14px"></div>
<div class="t" style="left:667px;top:580.05px;width:53px">19</div>
<div class="c p" style="left:721px;top:579px;width:53px;height:14px"></div>
<div class="t" style="left:721px;top:580.05px;width:53px">08</div>
<div class="c p" style="left:503px;top:594px;width:54px;height:14px"></div>
<div class="t" style="left:503px;top:595.30px;width:54px">14</div>
<div class="c p" style="left:558px;top:594px;width:53px;height:14px"></div>
<div class="t" style="left:558px;top:595.30px;width:53px">20</div>
<div class="c p" style="left:612px;top:594px;width:54px;height:14px"></div>
<div class="t" style="left:612px;top:595.30px;width:54px">27</div>
<div class="c p" style="left:667px;top:594px;width:53px;height:14px"></div>
<div class="t" style="left:667px;top:595.30px;width:53px">01</div>
<div class="c p" style="left:721px;top:594px;width:53px;height:14px"></div>
<div class="t" style="left:721px;top:595.30px;width:53px">09</div>
<div class="c p" style="left:503px;top:609px;width:54px;height:14px"></div>
<div class="t" style="left:503px;top:610.55px;width:54px">28</div>
<div class="c p" style="left:558px;top:609px;width:53px;height:14px"></div>
<div class="t" style="left:558px;top:610.55px;width:53px">05</div>
<div class="c p" style="left:612px;top:609px;width:54px;height:14px"></div>
<div class="t" style="left:612px;top:610.55px;width:54px">07</div>
<div class="c p" style="left:667px;top:609px;width:53px;height:14px"></div>
<div class="t" style="left:667px;top:610.55px;width:53px">10</div>
<div class="c p" style="left:721px;top:609px;width:53px;height:14px"></div>
<div class="t" style="left:721px;top:610.55px;width:53px">13</div>
<div class="c p" style="left:503px;top:624px;width:54px;height:15px"></div>
<div class="t" style="left:503px;top:625.80px;width:54px">22</div>
<div class="c p" style="left:558px;top:624px;width:53px;height:15px"></div>
<div class="t" style="left:558px;top:625.80px;width:53px">23</div>
<div class="c p" style="left:612px;top:624px;width:54px;height:15px"></div>
<div class="t" style="left:612px;top:625.80px;width:54px">25</div>
<div class="c p" style="left:775px;top:533px;width:54px;height:14px"></div>
<div class="t" style="left:775px;top:534.30px;width:54px">24</div>
<div class="c p" style="left:830px;top:533px;width:53px;height:14px"></div>
<div class="t" style="left:830px;top:534.30px;width:53px">14</div>
<div class="c p" style="left:884px;top:533px;width:54px;height:14px"></div>
<div class="t" style="left:884px;top:534.30px;width:54px">23</div>
<div class="c p" style="left:939px;top:533px;width:53px;height:14px"></div>
<div class="t" style="left:939px;top:534.30px;width:53px">29</div>
<div class="c p" style="left:993px;top:533px;width:54px;height:14px"></div>
<div class="t" style="left:993px;top:534.30px;width:54px">33</div>
<div class="c p" style="left:775px;top:548px;width:54px;height:14px"></div>
<div class="t" style="left:775px;top:549.55px;width:54px">19</div>
<div class="c p" style="left:830px;top:548px;width:53px;height:14px"></div>
<div class="t" style="left:830px;top:549.55px;width:53px">20</div>
<div class="c p" style="left:884px;top:548px;width:54px;height:14px"></div>
<div class="t" style="left:884px;top:549.55px;width:54px">18</div>
<div class="c p" style="left:939px;top:548px;width:53px;height:14px"></div>
<div class="t" style="left:939px;top:549.55px;width:53px">04</div>
<div class="c p" style="left:993px;top:548px;width:54px;height:14px"></div>
<div class="t" style="left:993px;top:549.55px;width:54px">13</div>
<div class="c p" style="left:775px;top:563px;width:54px;height:15px"></div>
<div class="t" style="left:775px;top:564.80px;width:54px">22</div>
<div class="c p" style="left:830px;top:563px;width:53px;height:15px"></div>
<div class="t" style="left:830px;top:564.80px;width:53px">03</div>
<div class="c p" style="left:884px;top:563px;width:54px;height:15px"></div>
<div class="t" style="left:884px;top:564.80px;width:54px">26</div>
<div class="c p" style="left:939px;top:563px;width:53px;height:15px"></div>
<div class="t" style="left:939px;top:564.80px;width:53px">30</div>
<div class="c p" style="left:993px;top:563px;width:54px;height:15px"></div>
<div class="t" style="left:993px;top:564.80px;width:54px">21</div>
<div class="c p" style="left:775px;top:579px;width:54px;height:14px"></div>
<div class="t" style="left:775px;top:580.05px;width:54px">12</div>
<div class="c p" style="left:830px;top:579px;width:53px;height:14px"></div>
<div class="t" style="left:830px;top:580.05px;width:53px">09</div>
<div class="c p" style="left:884px;top:579px;width:54px;height:14px"></div>
<div class="t" style="left:884px;top:580.05px;width:54px">15</div>
<div class="c p" style="left:939px;top:579px;width:53px;height:14px"></div>
<div class="t" style="left:939px;top:580.05px;width:53px">16</div>
<div class="c p" style="left:993px;top:579px;width:54px;height:14px"></div>
<div class="t" style="left:993px;top:580.05px;width:54px">28</div>
<div class="c p" style="left:775px;top:594px;width:54px;height:14px"></div>
<div class="t" style="left:775px;top:595.30px;width:54px">17</div>
<div class="c p" style="left:830px;top:594px;width:53px;height:14px"></div>
<div class="t" style="left:830px;top:595.30px;width:53px">02</div>
<div class="c p" style="left:884px;top:594px;width:54px;height:14px"></div>
<div class="t" style="left:884px;top:595.30px;width:54px">07</div>
<div class="c p" style="left:939px;top:594px;width:53px;height:14px"></div>
<div class="t" style="left:939px;top:595.30px;width:53px">10</div>
<div class="c p" style="left:993px;top:594px;width:54px;height:14px"></div>
<div class="t" style="left:993px;top:595.30px;width:54px">06</div>
<div class="c p" style="left:775px;top:609px;width:54px;height:14px"></div>
<div class="t" style="left:775px;top:610.55px;width:54px">08</div>
<div class="c p" style="left:830px;top:609px;width:53px;height:14px"></div>
<div class="t" style="left:830px;top:610.55px;width:53px">25</div>
<div class="c p" style="left:884px;top:609px;width:54px;height:14px"></div>
<div class="t" style="left:884px;top:610.55px;width:54px">27</div>
<div class="c p" style="left:939px;top:609px;width:53px;height:14px"></div>
<div class="t" style="left:939px;top:610.55px;width:53px">01</div>
<div class="c p" style="left:993px;top:609px;width:54px;height:14px"></div>
<div class="t" style="left:993px;top:610.55px;width:54px">31</div>
<div class="c p" style="left:775px;top:624px;width:54px;height:15px"></div>
<div class="t" style="left:775px;top:625.80px;width:54px">11</div>
<div class="c p" style="left:830px;top:624px;width:53px;height:15px"></div>
<div class="t" style="left:830px;top:625.80px;width:53px">32</div>
<div class="c p" style="left:884px;top:624px;width:54px;height:15px"></div>
<div class="t" style="left:884px;top:625.80px;width:54px">05</div>
<div class="hl" style="top:13px"></div>
<div class="hl" style="top:29px"></div>
<div class="hl" style="top:44px"></div>
<div class="hl" style="top:59px"></div>
<div class="hl" style="top:74px"></div>
<div class="hl" style="top:90px"></div>
<div class="hl" style="top:120px"></div>
<div class="hl" style="top:135px"></div>
<div class="hl" style="top:151px"></div>
<div class="hl" style="top:166px"></div>
<div class="hl" style="top:181px"></div>
<div class="hl" style="top:196px"></div>
<div class="hl" style="top:227px"></div>
<div class="hl" style="top:242px"></div>
<div class="hl" style="top:257px"></div>
<div class="hl" style="top:273px"></div>
<div class="hl" style="top:288px"></div>
<div class="hl" style="top:303px"></div>
<div class="hl" style="top:334px"></div>
<div class="hl" style="top:349px"></div>
<div class="hl" style="top:364px"></div>
<div class="hl" style="top:379px"></div>
<div class="hl" style="top:395px"></div>
<div class="hl" style="top:410px"></div>
<div class="hl" style="top:440px"></div>
<div class="hl" style="top:456px"></div>
<div class="hl" style="top:471px"></div>
<div class="hl" style="top:486px"></div>
<div class="hl" style="top:501px"></div>
<div class="hl" style="top:517px"></div>
<div class="hl" style="top:547px"></div>
<div class="hl" style="top:562px"></div>
<div class="hl" style="top:578px"></div>
<div class="hl" style="top:593px"></div>
<div class="hl" style="top:608px"></div>
<div class="hl" style="top:623px"></div>
<div class="vl" style="left:502px;top:0;height:638px"></div>
<div class="vl" style="left:557px;top:0;height:638px"></div>
<div class="vl" style="left:611px;top:0;height:638px"></div>
<div class="vl" style="left:666px;top:0;height:638px"></div>
<div class="vl" style="left:720px;top:0;height:638px"></div>
<div class="vl" style="left:829px;top:0;height:638px"></div>
<div class="vl" style="left:883px;top:0;height:638px"></div>
<div class="vl" style="left:938px;top:0;height:638px"></div>
<div class="vl" style="left:992px;top:0;height:638px"></div>
<div class="a" style="left:147px;top:0;width:1px;height:638px;background:#dddddd"></div>
<div class="a" style="left:774px;top:0;width:1px;height:638px;background:#000"></div>
<div class="bk" style="top:-2px"></div>
<div class="bk" style="top:105px"></div>
<div class="bk" style="top:212px"></div>
<div class="bk" style="top:318px"></div>
<div class="bk" style="top:425px"></div>
<div class="bk" style="top:532px"></div>
<div class="bk" style="top:639px"></div>
<div class="per" style="top:42.0px;height:20px;line-height:20px">2026007</div>
<div class="num" style="top:42.5px;height:20px;line-height:20px">09 13 19 27 29 30 <span>01</span></div>
<div class="per" style="top:149.0px;height:20px;line-height:20px">2026008</div>
<div class="num" style="top:149.5px;height:20px;line-height:20px">06 09 16 27 31 33 <span>10</span></div>
<div class="per" style="top:255.5px;height:20px;line-height:20px">2026009</div>
<div class="num" style="top:256.0px;height:20px;line-height:20px">03 06 13 19 23 25 <span>10</span></div>
<div class="per" style="top:362.0px;height:20px;line-height:20px">2026010</div>
<div class="num" style="top:362.5px;height:20px;line-height:20px">04 09 10 15 19 26 <span>12</span></div>
<div class="per" style="top:469.0px;height:20px;line-height:20px">2026011</div>
<div class="num" style="top:469.5px;height:20px;line-height:20px">02 03 04 20 31 32 <span>04</span></div>
<div class="per" style="top:576.0px;height:20px;line-height:20px">2026012</div>
<div class="num" style="top:577.0px;height:20px;line-height:20px;font-weight:bold;color:#333333">-</div>
<div class="a" style="left:941px;top:0px;width:102px;height:20px;border:1px solid #a00a24;background:#fff"></div>
<div class="a" style="left:946px;top:5px;width:12px;height:12px;background:#ffff00"></div>
<div class="a" id="wm" style="left:962px;top:-2px;font-family:'Liberation Serif',serif;font-size:18px;line-height:24px;color:#a00a24;letter-spacing:1.35px;-webkit-text-stroke:0.35px #a00a24;white-space:nowrap">cz8<span style="position:relative;top:2px;font-size:16.5px;margin-right:1px">9</span>.com</div>

</body></html>
